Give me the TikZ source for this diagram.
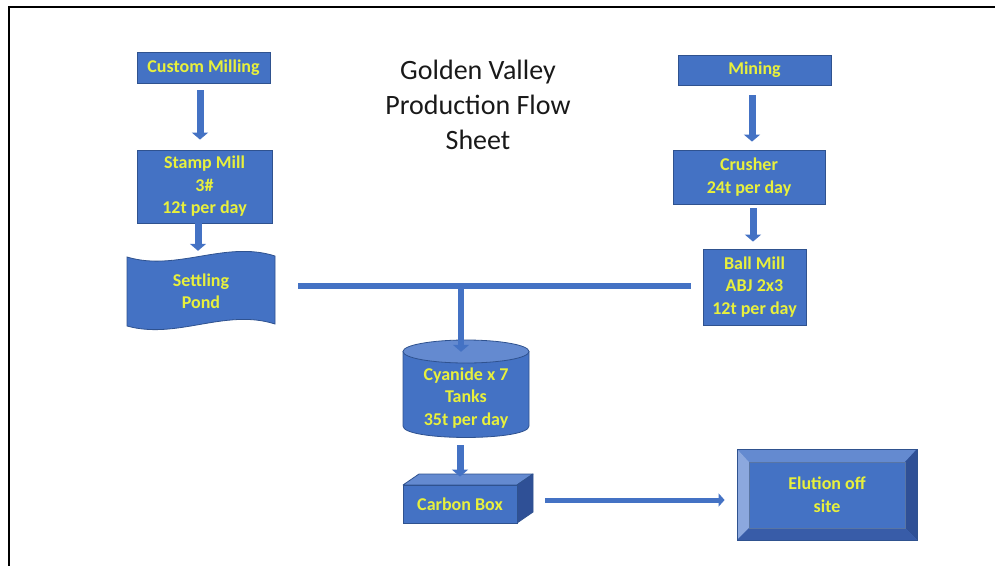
\documentclass[tikz,border=0pt]{standalone}
\usepackage{fontspec}
\setmainfont{Carlito}
\usetikzlibrary{arrows.meta}
\definecolor{boxblue}{RGB}{68,114,196}
\definecolor{edgeblue}{RGB}{47,82,143}
\definecolor{lightblue}{RGB}{100,138,208}
\definecolor{palerblue}{RGB}{140,168,222}
\definecolor{darkblue}{RGB}{47,80,150}
\definecolor{midblue}{RGB}{56,92,168}
\definecolor{txtyellow}{RGB}{232,240,60}
\begin{document}
\begin{tikzpicture}[x=1pt,y=-1pt,
  box/.style={draw=edgeblue, line width=0.8pt, fill=boxblue, text=txtyellow,
    font=\bfseries\fontsize{18}{22.5}\selectfont, align=center, inner sep=0pt},
  plain/.style={text=txtyellow, font=\bfseries\fontsize{18}{22.5}\selectfont,
    align=center, inner sep=0pt},
  flow/.style={draw=boxblue, line width=7pt, -{Triangle[length=7pt,width=16pt]}},
  thinflow/.style={draw=boxblue, line width=5pt, -{Triangle[length=6pt,width=13pt]}},
  bar/.style={draw=boxblue, line width=6pt},
  face/.style={draw=edgeblue, line width=0.8pt, line join=round}
  ]
\useasboundingbox (0,0) rectangle (995,565);
% frame
\draw[line width=2pt] (9,566) -- (9,7) -- (996,7);

% title
\node[font=\fontsize{28}{35}\selectfont, align=center, text={rgb,255:red,25;green,25;blue,25}] (title) at (478,105)
  {Golden Valley\\Production Flow\\Sheet};

% left column
\node[box, minimum width=133pt, minimum height=31pt] (custom) at (203.5,67.5) {Custom Milling};
\node[box, minimum width=135pt, minimum height=73pt] (stamp) at (204.5,186.5) {Stamp Mill\\3\#\\12t per day};

% settling pond (wave shape)
\fill[boxblue, draw=edgeblue, line width=0.8pt]
  (127,257) .. controls (177,272) and (225,240) .. (275,256)
  -- (275,324) .. controls (225,308) and (177,340) .. (127,326) -- cycle;
\node[plain, minimum width=148pt, minimum height=70pt] (pond) at (201,291) {Settling\\Pond};

% right column
\node[box, minimum width=153pt, minimum height=30pt] (mining) at (754.5,70) {Mining};
\node[box, minimum width=152pt, minimum height=54pt] (crusher) at (749,177) {Crusher\\24t per day};
\node[box, minimum width=103pt, minimum height=76pt] (ball) at (754.5,287) {Ball Mill\\ABJ 2x3\\12t per day};

% cyanide tanks (cylinder)
\filldraw[fill=boxblue, face]
  (403,351.5) -- (403,426) .. controls (403,441.3) and (529,441.3) .. (529,426)
  -- (529,351.5) -- cycle;
\filldraw[fill=lightblue, face] (466,351.5) ellipse [x radius=63pt, y radius=11.5pt];
\node[plain, minimum width=126pt, minimum height=80pt] (tank) at (466,398) {Cyanide x 7\\Tanks\\35t per day};

% carbon box (3D box)
\filldraw[fill=lightblue, face] (403,485) -- (419,474) -- (533,474) -- (517,485) -- cycle;
\filldraw[fill=darkblue, face] (517,485) -- (533,474) -- (533,512) -- (517,523) -- cycle;
\node[box, minimum width=114pt, minimum height=38pt] (carbon) at (460,504) {Carbon Box};

% elution (bevel)
\node[box, draw=none, minimum width=180pt, minimum height=91pt] (elution) at (827,494.5) {};
\fill[lightblue] (737,449) -- (917,449) -- (905,462) -- (749,462) -- cycle;
\fill[palerblue] (737,449) -- (749,462) -- (749,528) -- (737,540) -- cycle;
\fill[darkblue] (917,449) -- (917,540) -- (905,528) -- (905,462) -- cycle;
\fill[midblue] (737,540) -- (749,528) -- (905,528) -- (917,540) -- cycle;
\draw[edgeblue, line width=0.5pt] (737,449) rectangle (917,540);
\draw[edgeblue!80, line width=0.4pt] (749,462) rectangle (905,528);
\node[plain] (eltext) at (elution) {Elution off\\site};

% connectors
\draw[flow, shorten <=7pt, shorten >=10pt] ([xshift=-3.5pt]custom.south) -- ([xshift=-4.5pt]stamp.north);
\draw[flow, shorten >=5pt] ([xshift=-6.5pt]stamp.south) -- ([xshift=-3pt]pond.north);
\draw[flow, shorten <=10pt, shorten >=8pt] ([xshift=-2.5pt]mining.south) -- ([xshift=3pt]crusher.north);
\draw[flow, shorten <=4pt, shorten >=7pt] ([xshift=4pt]crusher.south) -- ([xshift=-1.5pt]ball.north);

\coordinate (hl) at (298,286);
\coordinate (hr) at (691,286);
\coordinate (j) at (461,283);
\draw[bar] (hl) -- (hr);
\draw[flow, line width=6pt, shorten >=6pt] (j) -- ([xshift=-5pt]tank.north);
\draw[flow, shorten <=7pt, shorten >=8pt] ([xshift=-6pt]tank.south) -- (carbon.north);
\draw[thinflow, shorten <=28pt, shorten >=12pt] ([yshift=4pt]carbon.east) -- ([yshift=-5.5pt]elution.west);
\end{tikzpicture}
\end{document}
